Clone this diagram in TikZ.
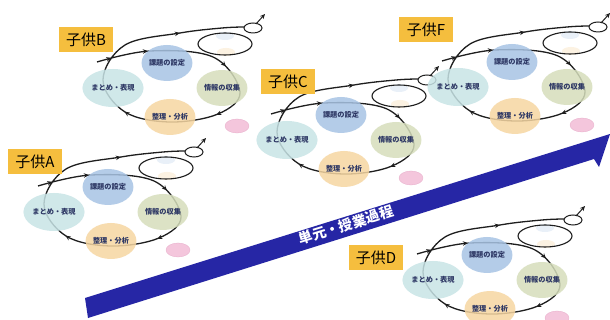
\documentclass[tikz,border=0pt]{standalone}
\usepackage{fontspec}
\newfontfamily\jp{Noto Sans CJK JP}
\usetikzlibrary{decorations.markings,arrows.meta,shapes.geometric}
\definecolor{kadai}{RGB}{168,196,228}
\definecolor{matome}{RGB}{200,228,230}
\definecolor{joho}{RGB}{214,222,188}
\definecolor{seiri}{RGB}{246,214,162}
\definecolor{pinkc}{RGB}{244,198,220}
\definecolor{pinkb}{RGB}{230,170,200}
\definecolor{txtc}{RGB}{45,55,100}
\definecolor{linec}{RGB}{30,30,30}
\definecolor{gold}{RGB}{245,190,62}
\definecolor{bandc}{RGB}{38,38,165}
\tikzset{
  mk/.style={decoration={markings,
        mark=at position 0.03 with {\arrow{Stealth[length=5pt,width=4.5pt]}},
        mark=at position 0.105 with {\arrow{Stealth[length=5pt,width=4.5pt]}},
        mark=at position 0.27 with {\arrow{Stealth[length=5pt,width=4.5pt]}},
        mark=at position 0.40 with {\arrow{Stealth[length=5pt,width=4.5pt]}},
        mark=at position 0.59 with {\arrow{Stealth[length=5pt,width=4.5pt]}},
        mark=at position 0.87 with {\arrow{Stealth[length=5pt,width=4.5pt]}}}},
  loopline/.style={draw=linec, line width=1.3pt},
  bub/.style={ellipse, inner sep=0pt, fill opacity=0.85, text opacity=1,
     text=txtc, font=\jp\bfseries\fontsize{7.2}{8}\selectfont,
     minimum width=50, minimum height=36},
  lab/.style={fill=gold, minimum width=54, minimum height=25, inner sep=0pt,
     font=\jp\fontsize{15}{17}\selectfont},
  cyc/.pic={
    \draw[loopline, mk, postaction={decorate}]
      plot[smooth, tension=0.6] coordinates {(-70,-1) (-17,-12) (46,-6) (73,29)
        (51,51) (3,59) (-42,49) (-64,17) (-42,-18) (13,-30) (55,-35) (77,-36)};
    \fill[kadai, opacity=0.25] (58,-27) ellipse [x radius=9, y radius=4];
    \fill[seiri, opacity=0.3] (59,-11) ellipse [x radius=9, y radius=4];
    \draw[loopline, line width=1.1pt] (58,-19) ellipse [x radius=27, y radius=11];
    \draw[loopline, line width=1pt] (86,-35) ellipse [x radius=9, y radius=5];
    \coordinate (-t1) at (89,-39);
    \coordinate (-t2) at (98,-49);
    \draw[loopline, line width=1pt, -{Stealth[length=5pt,width=4.5pt]}] (-t1) -- (-t2);
    \node[bub, fill=kadai, minimum width=50, minimum height=36] (-k) at (0,0) {課題の設定};
    \node[bub, fill=matome, minimum height=38] (-m) at (-54,25) {まとめ・表現};
    \node[bub, fill=joho] (-j) at (55,25) {情報の収集};
    \node[bub, fill=seiri] (-s) at (3,54) {整理・分析};
    \node[ellipse, fill=pinkc, draw=pinkb, line width=0.3pt, inner sep=0pt,
          minimum width=24, minimum height=14] (-p) at (70,63) {};
  }
}
\begin{document}
\begin{tikzpicture}[x=1pt, y=-1pt]
\useasboundingbox (0,0) rectangle (610,320);
\fill[white] (0,0) rectangle (610,320);
% process band
\fill[bandc] (85,298) -- (610,134) -- (599,167) -- (594,159) -- (88,318) -- cycle;
\node[rotate=17.4, text=white, font=\jp\bfseries\fontsize{14}{16}\selectfont] (band) at (346,225) {単元・授業過程};
% cycles
\pic (B) at (167,63) {cyc};
\pic (A) at (108,187) {cyc};
\pic (C) at (341,115) {cyc};
\pic (F) at (512,62) {cyc};
\pic (D) at (487,255) {cyc};
% labels
\node[lab] (labB) at (86,40) {子供B};
\node[lab] (labA) at (35,162) {子供A};
\node[lab] (labC) at (288,82) {子供C};
\node[lab] (labF) at (426,30) {子供F};
\node[lab] (labD) at (376,258) {子供D};
\end{tikzpicture}
\end{document}
